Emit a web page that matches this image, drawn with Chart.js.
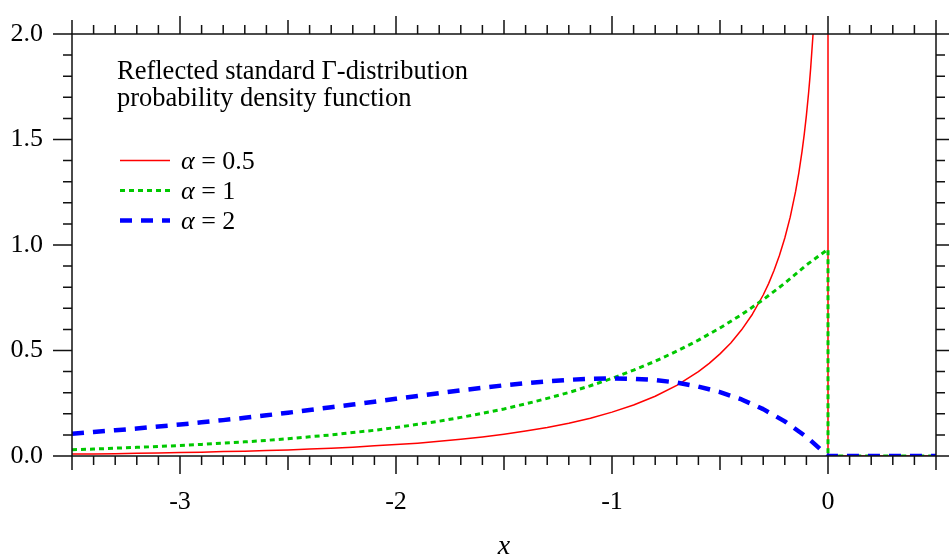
<!DOCTYPE html>
<html>
<head>
<meta charset="utf-8">
<script src="https://cdn.jsdelivr.net/npm/chart.js@4.4.1/dist/chart.umd.min.js"></script>
<style>
  html, body { margin: 0; padding: 0; background: #ffffff; }
  #wrap { position: relative; width: 949px; height: 554px; }
</style>
</head>
<body>
<div id="wrap"><canvas id="c" width="949" height="554"></canvas></div>
<script>
// ---------------- data ----------------
const chartTitleLines = ['Reflected standard \u0393-distribution', 'probability density function'];
const seriesNames = ['0.5', '1', '2'];
const xTickLabels = [-3, -2, -1, 0];
const yTickLabels = [0.0, 0.5, 1.0, 1.5, 2.0];

// x positions of the sampled curve (x < 0)
const xGrid = [-3.5, -3.4, -3.3, -3.2, -3.1, -3.0, -2.9, -2.8, -2.7, -2.6,
               -2.5, -2.4, -2.3, -2.2, -2.1, -2.0, -1.9, -1.8, -1.7, -1.6,
               -1.5, -1.4, -1.3, -1.2, -1.1, -1.0, -0.9, -0.8, -0.7, -0.6,
               -0.5, -0.4, -0.3, -0.2, -0.1];

// alpha = 0.5 (red, solid) — steep rise near 0, extra points close to 0
const redX = [-3.5, -3.4, -3.3, -3.2, -3.1, -3.0, -2.9, -2.8, -2.7, -2.6,
              -2.5, -2.4, -2.3, -2.2, -2.1, -2.0, -1.9, -1.8, -1.7, -1.6,
              -1.5, -1.4, -1.3, -1.2, -1.1, -1.0, -0.9, -0.8, -0.7, -0.6,
              -0.55, -0.5, -0.45, -0.4, -0.35, -0.3, -0.275, -0.25, -0.225, -0.2,
              -0.175, -0.15, -0.135, -0.12, -0.11, -0.1, -0.09, -0.085, -0.08, -0.07,
              -0.065, -0.06, 0, 0, 0.5];
const redY = [0.009, 0.010, 0.011, 0.013, 0.014, 0.016, 0.018, 0.021, 0.023, 0.026,
              0.029, 0.033, 0.037, 0.042, 0.048, 0.054, 0.061, 0.070, 0.079, 0.090,
              0.103, 0.118, 0.135, 0.155, 0.179, 0.208, 0.242, 0.283, 0.335, 0.400,
              0.439, 0.484, 0.536, 0.598, 0.672, 0.763, 0.817, 0.879, 0.950, 1.033,
              1.132, 1.254, 1.342, 1.445, 1.524, 1.614, 1.719, 1.778, 1.841, 1.988,
              2.074, 2.169, 40, 0, 0];

// alpha = 1 (green, dotted)
const greenY = [0.030, 0.033, 0.037, 0.041, 0.045, 0.050, 0.055, 0.061, 0.067, 0.074,
                0.082, 0.091, 0.100, 0.111, 0.122, 0.135, 0.150, 0.165, 0.183, 0.202,
                0.223, 0.247, 0.273, 0.301, 0.333, 0.368, 0.407, 0.449, 0.497, 0.549,
                0.607, 0.670, 0.741, 0.819, 0.905];
const greenTailX = [0, 0, 0.5];
const greenTailY = [0.98, 0, 0];

// alpha = 2 (blue, dashed)
const blueY = [0.106, 0.114, 0.122, 0.130, 0.140, 0.149, 0.160, 0.170, 0.181, 0.193,
               0.205, 0.218, 0.231, 0.244, 0.257, 0.271, 0.284, 0.298, 0.311, 0.323,
               0.335, 0.345, 0.354, 0.361, 0.366, 0.368, 0.366, 0.360, 0.348, 0.329,
               0.303, 0.268, 0.222, 0.164, 0.091];
const blueTailX = [0, 0.5];
const blueTailY = [0, 0];

// ---------------- styling ----------------
const SERIF = '"Liberation Serif", "Times New Roman", serif';
const colors = ['#ff0000', '#00c800', '#0000ff'];
const widths = [1.5, 3, 4.5];
const dashes = [[], [5, 4], [12, 9]];

function pts(xs, ys) { return xs.map((x, i) => ({ x: x, y: ys[i] })); }

const datasets = [
  { label: seriesNames[0], data: pts(redX, redY), borderColor: colors[0], borderWidth: widths[0], borderDash: dashes[0], order: 3 },
  { label: seriesNames[1], data: pts(xGrid.concat(greenTailX), greenY.concat(greenTailY)), borderColor: colors[1], borderWidth: widths[1], borderDash: dashes[1], order: 2 },
  { label: seriesNames[2], data: pts(xGrid.concat(blueTailX), blueY.concat(blueTailY)), borderColor: colors[2], borderWidth: widths[2], borderDash: dashes[2], order: 1 }
].map(d => Object.assign(d, { pointRadius: 0, fill: false, tension: 0, borderCapStyle: 'butt', borderJoinStyle: 'round' }));

// frame, four-sided ticks, in-plot title and legend
const decorations = {
  id: 'decorations',
  afterDraw(chart) {
    const ctx = chart.ctx;
    const xs = chart.scales.x, ys = chart.scales.y;
    const a = chart.chartArea;
    ctx.save();
    ctx.strokeStyle = '#111';
    ctx.lineWidth = 1.5;
    ctx.setLineDash([]);
    ctx.strokeRect(a.left, a.top, a.right - a.left, a.bottom - a.top);
    ctx.beginPath();
    for (let i = -35; i <= 5; i++) {
      const px = xs.getPixelForValue(i / 10);
      const len = (i % 10 === 0) ? 18 : (i % 5 === 0 ? 14 : 9);
      ctx.moveTo(px, a.bottom); ctx.lineTo(px, a.bottom + len);
      ctx.moveTo(px, a.top); ctx.lineTo(px, a.top - len);
    }
    for (let j = 0; j <= 20; j++) {
      const py = ys.getPixelForValue(j / 10);
      const len = (j % 5 === 0) ? 19 : 9;
      ctx.moveTo(a.left, py); ctx.lineTo(a.left - len, py);
      ctx.moveTo(a.right, py); ctx.lineTo(a.right + len, py);
    }
    ctx.stroke();

    // title text
    ctx.fillStyle = '#000';
    ctx.textBaseline = 'alphabetic';
    ctx.textAlign = 'left';
    ctx.font = '26.5px ' + SERIF;
    ctx.fillText(chartTitleLines[0], 117, 79);
    ctx.fillText(chartTitleLines[1], 117, 106);

    // legend
    const rowY = [160.5, 190.5, 220.5];
    for (let k = 0; k < 3; k++) {
      ctx.strokeStyle = colors[k];
      ctx.lineWidth = widths[k];
      ctx.setLineDash(dashes[k]);
      ctx.beginPath();
      ctx.moveTo(120, rowY[k]); ctx.lineTo(170, rowY[k]);
      ctx.stroke();
      ctx.setLineDash([]);
      ctx.fillStyle = '#000';
      ctx.font = 'italic 26px ' + SERIF;
      ctx.fillText('\u03b1', 181, rowY[k] + 8);
      const w = ctx.measureText('\u03b1').width;
      ctx.font = '26px ' + SERIF;
      ctx.fillText(' = ' + seriesNames[k], 181 + w, rowY[k] + 8);
    }
    ctx.restore();
  }
};

new Chart(document.getElementById('c'), {
  type: 'line',
  data: { datasets: datasets },
  options: {
    responsive: false,
    animation: false,
    events: [],
    layout: { padding: { top: 34, right: 13, left: 0, bottom: 0 } },
    plugins: { legend: { display: false }, tooltip: { enabled: false } },
    scales: {
      x: {
        type: 'linear', min: -3.5, max: 0.5,
        grid: { display: false, drawTicks: false },
        border: { display: false },
        afterBuildTicks: s => { s.ticks = xTickLabels.map(v => ({ value: v })); },
        afterFit: s => { s.height = 98; s.paddingLeft = 0; s.paddingRight = 0; },
        ticks: { padding: 31, color: '#000', font: { family: SERIF, size: 26 }, callback: v => String(v) },
        title: { display: true, text: 'x', color: '#000', font: { family: SERIF, size: 28, style: 'italic' }, padding: { top: 0, bottom: -9 } }
      },
      y: {
        type: 'linear', min: 0, max: 2,
        grid: { display: false, drawTicks: false },
        border: { display: false },
        afterBuildTicks: s => { s.ticks = yTickLabels.map(v => ({ value: v })); },
        afterFit: s => { s.width = 72; s.paddingTop = 0; s.paddingBottom = 0; },
        ticks: { padding: 29, color: '#000', font: { family: SERIF, size: 26 }, callback: v => Number(v).toFixed(1) }
      }
    }
  },
  plugins: [decorations]
});
</script>
</body>
</html>
